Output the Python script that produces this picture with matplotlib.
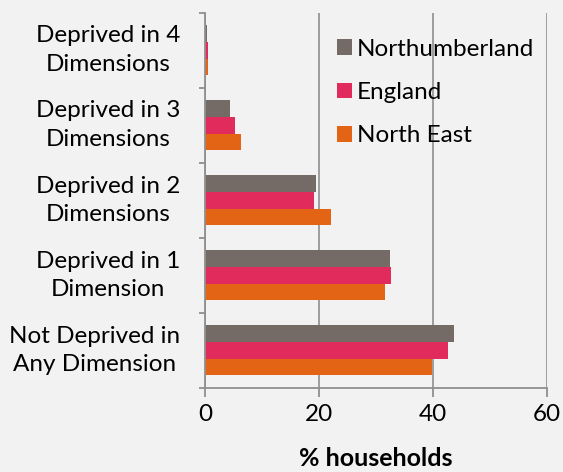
import matplotlib.pyplot as plt
import numpy as np

# categories from bottom to top, values are % of households
categories = ["Not Deprived in\nAny Dimension", "Deprived in 1\nDimension",
              "Deprived in 2\nDimensions", "Deprived in 3\nDimensions",
              "Deprived in 4\nDimensions"]
northumberland = [43.7, 32.5, 19.4, 4.4, 0.3]
england = [42.6, 32.7, 19.2, 5.2, 0.6]
north_east = [39.8, 31.6, 22.1, 6.4, 0.5]
x_ticks = [0, 20, 40, 60]

plt.rcParams['font.family'] = ['Lato', 'DejaVu Sans']
bg = '#f2f2f2'
grey = '#8f8f8f'
fs = 17.5

fig = plt.figure(figsize=(5.63, 4.72), dpi=100, facecolor=bg)
ax = fig.add_axes([0.364, 0.178, 0.608, 0.795], facecolor=bg)

y = np.arange(len(categories))
h = 0.222
ax.barh(y + h, northumberland, h, color='#746a66', label='Northumberland')
ax.barh(y, england, h, color='#e02b5c', label='England')
ax.barh(y - h, north_east, h, color='#e36414', label='North East')

ax.set_xlim(0, 60)
ax.set_ylim(-0.5, len(categories) - 0.5)
ax.set_xticks(x_ticks)
ax.set_yticks(y, categories)
for lbl in ax.get_yticklabels():
    lbl.set_multialignment('center')
    lbl.set_linespacing(1.45)
    lbl.set_verticalalignment('center')
ax.set_yticks(np.arange(-0.5, len(categories), 1), minor=True)

ax.tick_params(axis='y', which='major', length=0, pad=18, labelsize=fs)
ax.tick_params(axis='y', which='minor', length=4.5, width=1.3, color=grey)
ax.tick_params(axis='x', length=6.5, width=1.3, color=grey, pad=5, labelsize=fs)

ax.xaxis.grid(True, color=grey, lw=1.2)
ax.set_axisbelow(True)
for s in ['top', 'right']:
    ax.spines[s].set_visible(False)
for s in ['left', 'bottom']:
    ax.spines[s].set_color(grey)
    ax.spines[s].set_linewidth(1.3)

ax.set_xlabel('% households', fontsize=18, fontweight='bold', labelpad=16)

ax.legend(loc='upper left', bbox_to_anchor=(0.356, 0.957), frameon=False,
          fontsize=fs, handlelength=0.62, handleheight=0.62, handletextpad=0.22,
          labelspacing=0.92, borderaxespad=0)

fig.savefig('out.png', dpi=100, facecolor=bg)
